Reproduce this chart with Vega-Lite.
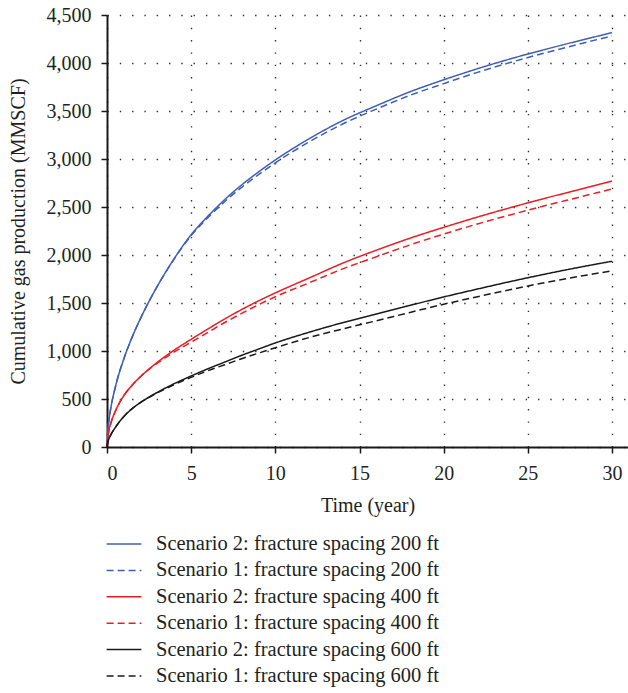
{
  "$schema": "https://vega.github.io/schema/vega-lite/v6.json",
  "width": 521,
  "height": 432,
  "autosize": {"type": "none"},
  "padding": {"left": 107, "top": 15, "right": 0, "bottom": 246},
  "background": "white",
  "config": {
    "view": {"stroke": null},
    "font": "Liberation Serif",
    "axis": {
      "domainColor": "#1a1a1a",
      "domainWidth": 2,
      "tickColor": "#1a1a1a",
      "tickWidth": 1.5,
      "labelFont": "Liberation Serif",
      "labelFontSize": 20,
      "labelColor": "#231f20",
      "titleFont": "Liberation Serif",
      "titleFontSize": 20,
      "titleFontWeight": "normal",
      "titleColor": "#231f20",
      "grid": true,
      "gridColor": "#333333",
      "gridWidth": 1.4,
      "gridDash": [1.4, 10.9]
    },
    "legend": {
      "orient": "none",
      "legendX": 4,
      "legendY": 516,
      "direction": "vertical",
      "padding": 0,
      "symbolType": "M-1.45,0H1.45",
      "symbolSize": 576,
      "symbolStrokeWidth": 1.5,
      "labelFont": "Liberation Serif",
      "labelFontSize": 20.5,
      "labelColor": "#231f20",
      "labelOffset": 19,
      "labelLimit": 0,
      "rowPadding": 2.4
    }
  },
  "datasets": {
    "production": [
      {"t": 0, "b2": 0, "b1": 0, "r2": 0, "r1": 0, "k2": 0, "k1": 0},
      {"t": 0.05, "b2": 177, "b1": 177, "r2": 105, "r1": 105, "k2": 50, "k1": 50},
      {"t": 0.1, "b2": 259, "b1": 259, "r2": 160, "r1": 160, "k2": 78, "k1": 78},
      {"t": 0.25, "b2": 429, "b1": 429, "r2": 260, "r1": 260, "k2": 135, "k1": 135},
      {"t": 0.5, "b2": 627, "b1": 627, "r2": 375, "r1": 375, "k2": 205, "k1": 205},
      {"t": 1, "b2": 918, "b1": 918, "r2": 535, "r1": 535, "k2": 318, "k1": 318},
      {"t": 1.5, "b2": 1147, "b1": 1147, "r2": 645, "r1": 645, "k2": 400, "k1": 400},
      {"t": 2, "b2": 1343, "b1": 1343, "r2": 735, "r1": 735, "k2": 465, "k1": 465},
      {"t": 2.5, "b2": 1518, "b1": 1518, "r2": 813, "r1": 810, "k2": 520, "k1": 517},
      {"t": 3, "b2": 1678, "b1": 1678, "r2": 884, "r1": 875, "k2": 570, "k1": 565},
      {"t": 4, "b2": 1965, "b1": 1960, "r2": 1010, "r1": 990, "k2": 660, "k1": 650},
      {"t": 5, "b2": 2212, "b1": 2202, "r2": 1122, "r1": 1092, "k2": 740, "k1": 725},
      {"t": 6, "b2": 2405, "b1": 2390, "r2": 1230, "r1": 1195, "k2": 815, "k1": 795},
      {"t": 7, "b2": 2578, "b1": 2558, "r2": 1335, "r1": 1297, "k2": 885, "k1": 857},
      {"t": 8, "b2": 2730, "b1": 2705, "r2": 1432, "r1": 1392, "k2": 955, "k1": 920},
      {"t": 9, "b2": 2865, "b1": 2837, "r2": 1522, "r1": 1482, "k2": 1020, "k1": 978},
      {"t": 10, "b2": 2990, "b1": 2960, "r2": 1605, "r1": 1565, "k2": 1084, "k1": 1034},
      {"t": 12, "b2": 3210, "b1": 3177, "r2": 1760, "r1": 1710, "k2": 1195, "k1": 1140},
      {"t": 14, "b2": 3400, "b1": 3365, "r2": 1915, "r1": 1855, "k2": 1295, "k1": 1230},
      {"t": 16, "b2": 3555, "b1": 3520, "r2": 2050, "r1": 1982, "k2": 1385, "k1": 1315},
      {"t": 18, "b2": 3700, "b1": 3663, "r2": 2175, "r1": 2105, "k2": 1475, "k1": 1402},
      {"t": 20, "b2": 3825, "b1": 3785, "r2": 2288, "r1": 2218, "k2": 1563, "k1": 1487},
      {"t": 22, "b2": 3940, "b1": 3902, "r2": 2395, "r1": 2323, "k2": 1645, "k1": 1565},
      {"t": 24, "b2": 4045, "b1": 4008, "r2": 2495, "r1": 2420, "k2": 1725, "k1": 1641},
      {"t": 26, "b2": 4140, "b1": 4104, "r2": 2590, "r1": 2512, "k2": 1800, "k1": 1712},
      {"t": 28, "b2": 4230, "b1": 4195, "r2": 2680, "r1": 2600, "k2": 1870, "k1": 1776},
      {"t": 30, "b2": 4316, "b1": 4281, "r2": 2771, "r1": 2688, "k2": 1935, "k1": 1834}
    ],
    "series": [
      {"key": "b2", "label": "Scenario 2: fracture spacing 200 ft"},
      {"key": "b1", "label": "Scenario 1: fracture spacing 200 ft"},
      {"key": "r2", "label": "Scenario 2: fracture spacing 400 ft"},
      {"key": "r1", "label": "Scenario 1: fracture spacing 400 ft"},
      {"key": "k2", "label": "Scenario 2: fracture spacing 600 ft"},
      {"key": "k1", "label": "Scenario 1: fracture spacing 600 ft"}
    ]
  },
  "layer": [
    {
      "data": {"name": "production"},
      "transform": [
        {"fold": ["b2", "b1", "r2", "r1", "k2", "k1"], "as": ["key", "value"]},
        {"lookup": "key", "from": {"data": {"name": "series"}, "key": "key", "fields": ["label"]}}
      ],
      "mark": {"type": "line", "strokeWidth": 1.5, "interpolate": "monotone"},
      "encoding": {
        "x": {
          "field": "t",
          "type": "quantitative",
          "scale": {"domain": [0, 30.95], "nice": false},
          "axis": {
            "title": "Time (year)",
            "values": [0, 5, 10, 15, 20, 25, 30],
            "tickSize": 6,
            "labelPadding": 10,
            "titlePadding": 12
          }
        },
        "y": {
          "field": "value",
          "type": "quantitative",
          "scale": {"domain": [0, 4500], "nice": false},
          "axis": {
            "title": "Cumulative gas production (MMSCF)",
            "values": [0, 500, 1000, 1500, 2000, 2500, 3000, 3500, 4000, 4500],
            "format": ",.0f",
            "tickSize": 6,
            "labelPadding": 10,
            "titlePadding": 18
          }
        },
        "color": {
          "field": "label",
          "type": "nominal",
          "scale": {
            "domain": [
              "Scenario 2: fracture spacing 200 ft",
              "Scenario 1: fracture spacing 200 ft",
              "Scenario 2: fracture spacing 400 ft",
              "Scenario 1: fracture spacing 400 ft",
              "Scenario 2: fracture spacing 600 ft",
              "Scenario 1: fracture spacing 600 ft"
            ],
            "range": ["#3f5fb3", "#3f5fb3", "#ec1c24", "#ec1c24", "#1a1a1a", "#1a1a1a"]
          },
          "legend": {"title": null}
        },
        "strokeDash": {
          "field": "label",
          "type": "nominal",
          "scale": {
            "domain": [
              "Scenario 2: fracture spacing 200 ft",
              "Scenario 1: fracture spacing 200 ft",
              "Scenario 2: fracture spacing 400 ft",
              "Scenario 1: fracture spacing 400 ft",
              "Scenario 2: fracture spacing 600 ft",
              "Scenario 1: fracture spacing 600 ft"
            ],
            "range": [[1, 0], [7, 4], [1, 0], [7, 4], [1, 0], [7, 4]]
          },
          "legend": {"title": null}
        }
      }
    },
    {
      "mark": {"type": "rule", "color": "#1a1a1a", "strokeWidth": 2},
      "encoding": {"y": {"datum": 4500}}
    }
  ]
}
